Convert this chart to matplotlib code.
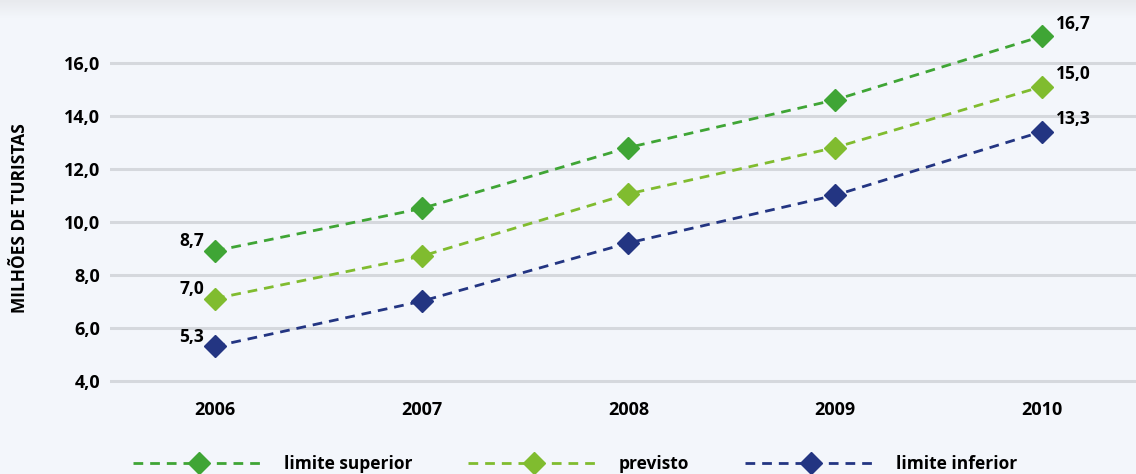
import numpy as np
from matplotlib import pyplot as plt

years = ['2006', '2007', '2008', '2009', '2010']
superior = [8.9, 10.5, 12.8, 14.6, 17.0]
previsto = [7.1, 8.7, 11.05, 12.8, 15.1]
inferior = [5.3, 7.0, 9.2, 11.0, 13.4]
superior_labels = ['8,7', '16,7']
previsto_labels = ['7,0', '15,0']
inferior_labels = ['5,3', '13,3']
yticks = [4, 6, 8, 10, 12, 14, 16]
ytick_labels = ['4,0', '6,0', '8,0', '10,0', '12,0', '14,0', '16,0']

bg = '#f3f6fb'
plt.rcParams['font.family'] = ['Open Sans', 'DejaVu Sans']
plt.rcParams['font.weight'] = 'bold'

fig = plt.figure(figsize=(11.36, 4.74), dpi=100, facecolor=bg)

# soft shadow band at the top
top = fig.add_axes([0, 1 - 18 / 474, 1, 18 / 474])
grad = np.linspace(0, 1, 50).reshape(-1, 1)
top.imshow(grad, aspect='auto', cmap=plt.matplotlib.colors.LinearSegmentedColormap.from_list(
    'g', ['#e8eaee', bg]), extent=[0, 1, 1, 0])
top.axis('off')

ax = fig.add_axes([110 / 1136, 88 / 474, 1026 / 1136, 363 / 474])
ax.set_facecolor('none')
x = np.arange(len(years))

series = [
    (superior, '#3fa535', 'limite superior', superior_labels),
    (previsto, '#80bc2f', 'previsto', previsto_labels),
    (inferior, '#233582', 'limite inferior', inferior_labels),
]
for vals, color, name, labels in series:
    ax.plot(x, vals, color=color, linestyle=(0, (3.5, 2.5)), linewidth=2,
            marker='D', markersize=11, label=name, zorder=3)
    ax.annotate(labels[0], (x[0], vals[0]), xytext=(-8, 7), textcoords='offset points',
                ha='right', va='center', fontsize=12.5, fontweight='bold')
    ax.annotate(labels[1], (x[-1], vals[-1]), xytext=(10, 9), textcoords='offset points',
                ha='left', va='center', fontsize=12.5, fontweight='bold')

ax.set_xlim(-0.508, 4.455)
ax.set_ylim(3.8, 17.5)
ax.set_xticks(x)
ax.set_xticklabels(years, fontsize=13, fontweight='bold')
ax.set_yticks(yticks)
ax.set_yticklabels(ytick_labels, fontsize=13, fontweight='bold')
ax.tick_params(length=0, axis='x', pad=11)
ax.tick_params(length=0, axis='y', pad=7)
ax.grid(axis='y', color='#d5d8dd', linewidth=2.2)
ax.set_axisbelow(True)
for s in ax.spines.values():
    s.set_visible(False)

fig.text(20 / 1136, 1 - 218 / 474, 'MILHÕES DE TURISTAS', rotation=90, ha='center',
         va='center', fontsize=12.5, fontweight='bold')

fig.legend(loc='center', bbox_to_anchor=(0.506, 1 - 464 / 474), ncol=3, frameon=False,
           handlelength=7.6, handletextpad=1.1, columnspacing=3.2,
           prop={'weight': 'bold', 'size': 12.5})

fig.savefig('out.png', dpi=100, facecolor=bg)
